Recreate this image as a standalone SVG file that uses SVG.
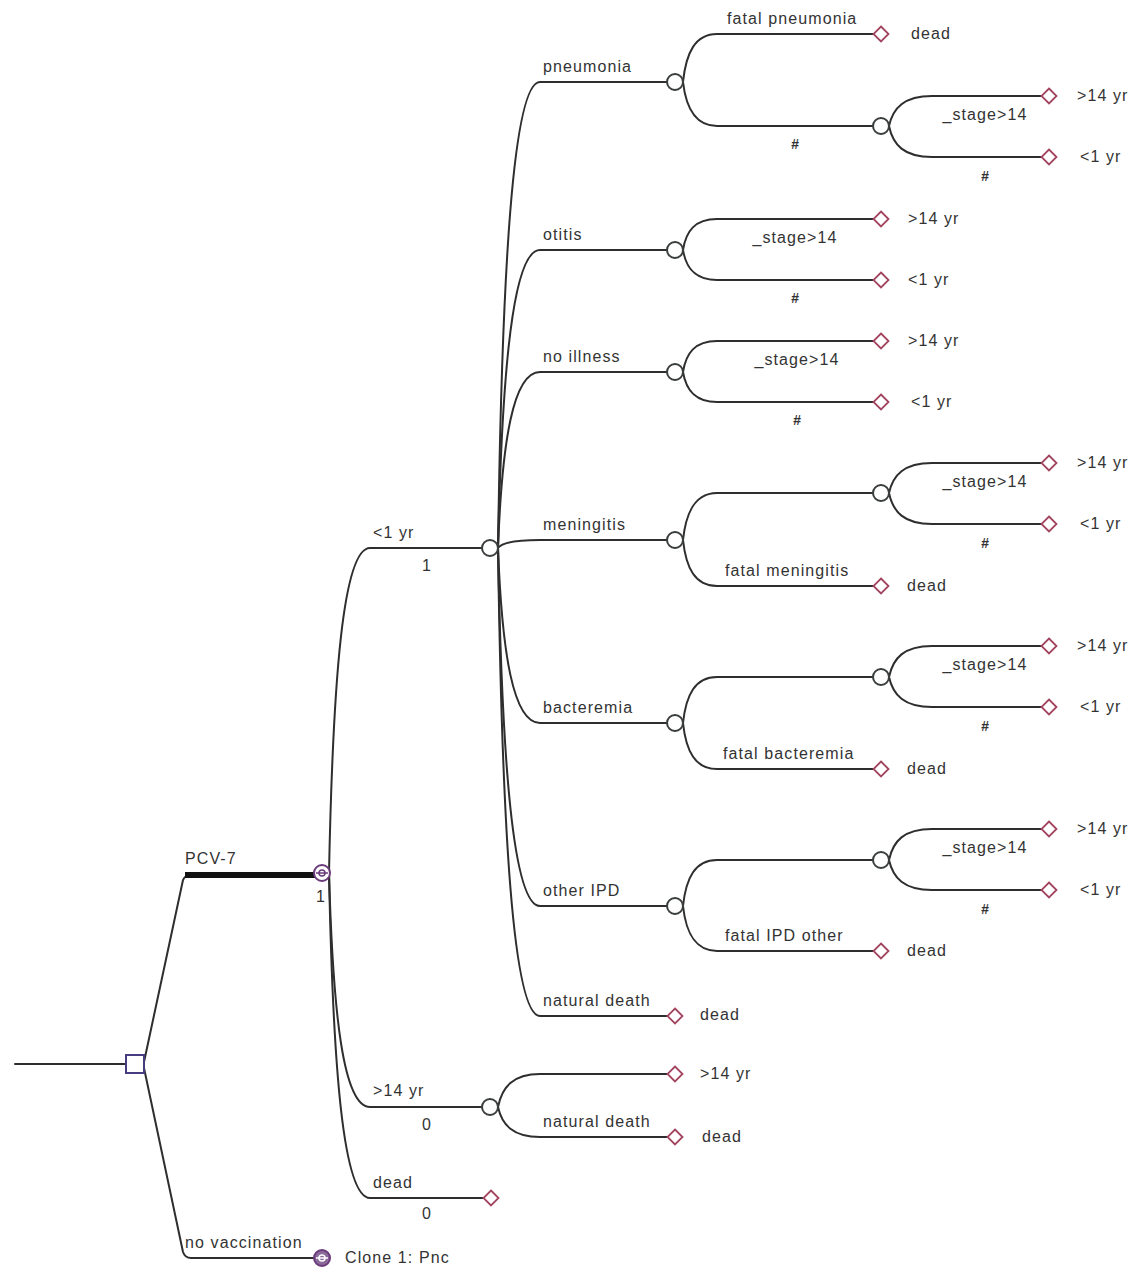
<svg xmlns="http://www.w3.org/2000/svg" width="1137" height="1270" viewBox="0 0 1137 1270">
<style>
.ln{fill:none;stroke:#2e2e2e;stroke-width:2;stroke-linecap:round;stroke-linejoin:round}
.thick{fill:none;stroke:#111;stroke-width:6}
.ch{fill:#fff;stroke:#3b3f3b;stroke-width:2}
.tm{fill:#fff;stroke:#a3445f;stroke-width:1.8}
.dc{fill:#fff;stroke:#463c80;stroke-width:2}
.mk{fill:#fff;stroke:#6b3b7b;stroke-width:2}
.mi{fill:none;stroke:#6b3b7b;stroke-width:1.5}
text{font-family:"Liberation Sans",Arial,sans-serif;font-size:16px;fill:#333;letter-spacing:1.1px}
.c{text-anchor:middle}
.h{font-size:14px;font-weight:bold;font-style:italic;letter-spacing:0}
</style>
<defs>
<polygon id="dia" points="0,-7.5 7.5,0 0,7.5 -7.5,0"/>
</defs>
<g id="connectors">
<path class="ln" d="M15,1064 L126,1064"/>
<path class="ln" d="M144,1062 L183,880 Q185,875 191,875"/>
<path class="thick" d="M185,875 L315,875"/>
<path class="ln" d="M144,1068 L183,1252 Q185,1258 191,1258 L314,1258"/>
<path class="ln" d="M329,873 C333,678 343,548 370,548 L482,548"/>
<path class="ln" d="M329,873 C333,1013 343,1107 370,1107 L482,1107"/>
<path class="ln" d="M329,873 C333,1068 343,1198 370,1198 L484,1198"/>
<path class="ln" d="M498,548 C502,268 513,82 540,82 L667,82"/>
<path class="ln" d="M498,548 C502,369 513,250 540,250 L667,250"/>
<path class="ln" d="M498,548 C502,442 513,372 540,372 L667,372"/>
<path class="ln" d="M498,548 C502,543 513,540 540,540 L667,540"/>
<path class="ln" d="M498,548 C502,653 513,723 540,723 L667,723"/>
<path class="ln" d="M498,548 C502,763 513,906 540,906 L667,906"/>
<path class="ln" d="M498,548 C502,829 513,1016 540,1016 L668,1016"/>
<path class="ln" d="M498,1107 C502,1087 513,1074 540,1074 L668,1074"/>
<path class="ln" d="M498,1107 C502,1125 513,1137 540,1137 L668,1137"/>
<path class="ln" d="M683,82 C686,53 695,34 717,34 L874,34"/>
<path class="ln" d="M683,82 C686,108 695,126 717,126 L873,126"/>
<path class="ln" d="M683,250 C686,231 695,219 717,219 L874,219"/>
<path class="ln" d="M683,250 C686,268 695,280 717,280 L874,280"/>
<path class="ln" d="M683,372 C686,353 695,341 717,341 L874,341"/>
<path class="ln" d="M683,372 C686,390 695,402 717,402 L874,402"/>
<path class="ln" d="M683,540 C686,512 695,493 717,493 L873,493"/>
<path class="ln" d="M683,540 C686,568 695,586 717,586 L874,586"/>
<path class="ln" d="M683,723 C686,695 695,677 717,677 L873,677"/>
<path class="ln" d="M683,723 C686,751 695,769 717,769 L874,769"/>
<path class="ln" d="M683,906 C686,878 695,860 717,860 L873,860"/>
<path class="ln" d="M683,906 C686,933 695,951 717,951 L874,951"/>
<path class="ln" d="M889,126 C893,108 904,96 932,96 L1042,96"/>
<path class="ln" d="M889,126 C893,145 904,157 932,157 L1042,157"/>
<path class="ln" d="M889,493 C893,475 904,463 932,463 L1042,463"/>
<path class="ln" d="M889,493 C893,512 904,524 932,524 L1042,524"/>
<path class="ln" d="M889,677 C893,658 904,646 932,646 L1042,646"/>
<path class="ln" d="M889,677 C893,695 904,707 932,707 L1042,707"/>
<path class="ln" d="M889,860 C893,841 904,829 932,829 L1042,829"/>
<path class="ln" d="M889,860 C893,878 904,890 932,890 L1042,890"/>
</g>
<g id="branch-labels">
<text x="185" y="864">PCV-7</text>
<text x="185" y="1248">no vaccination</text>
<text x="373" y="538">&lt;1 yr</text>
<text class="c" x="427" y="571">1</text>
<text x="373" y="1096">&gt;14 yr</text>
<text class="c" x="427" y="1130">0</text>
<text x="373" y="1188">dead</text>
<text class="c" x="427" y="1219">0</text>
<text x="543" y="72">pneumonia</text>
<text x="543" y="240">otitis</text>
<text x="543" y="362">no illness</text>
<text x="543" y="530">meningitis</text>
<text x="543" y="713">bacteremia</text>
<text x="543" y="896">other IPD</text>
<text x="543" y="1006">natural death</text>
<text x="543" y="1127">natural death</text>
<text x="727" y="24">fatal pneumonia</text>
<text class="c h" x="795" y="149">#</text>
<text class="c" x="795" y="243">_stage&gt;14</text>
<text class="c h" x="795" y="303">#</text>
<text class="c" x="797" y="365">_stage&gt;14</text>
<text class="c h" x="797" y="425">#</text>
<text x="725" y="576">fatal meningitis</text>
<text x="723" y="759">fatal bacteremia</text>
<text x="725" y="941">fatal IPD other</text>
<text class="c" x="985" y="120">_stage&gt;14</text>
<text class="c h" x="985" y="181">#</text>
<text class="c" x="985" y="487">_stage&gt;14</text>
<text class="c h" x="985" y="548">#</text>
<text class="c" x="985" y="670">_stage&gt;14</text>
<text class="c h" x="985" y="731">#</text>
<text class="c" x="985" y="853">_stage&gt;14</text>
<text class="c h" x="985" y="914">#</text>
</g>
<g id="decision"><rect class="dc" x="126" y="1055" width="18" height="18"/></g>
<g id="markov"><circle class="mk" cx="322" cy="873" r="8"/><circle class="mi" cx="322" cy="873" r="3"/><path class="mi" d="M316,873 H328"/><text class="c" x="321" y="902">1</text></g>
<g id="clone"><circle class="mk" cx="322" cy="1258" r="8" style="fill:#8a6a98"/><circle class="mi" cx="322" cy="1258" r="3" style="stroke:#fff"/><path class="mi" d="M316,1258 H328" style="stroke:#fff"/><text x="345" y="1263">Clone 1: Pnc</text></g>
<g id="chance-lt1"><circle class="ch" cx="490" cy="548" r="8"/></g>
<g id="chance-gt14"><circle class="ch" cx="490" cy="1107" r="8"/></g>
<g id="term-dead"><use href="#dia" class="tm" x="491" y="1198"/></g>
<g id="chance-pneumonia"><circle class="ch" cx="675" cy="82" r="8"/></g>
<g id="chance-otitis"><circle class="ch" cx="675" cy="250" r="8"/></g>
<g id="chance-noillness"><circle class="ch" cx="675" cy="372" r="8"/></g>
<g id="chance-meningitis"><circle class="ch" cx="675" cy="540" r="8"/></g>
<g id="chance-bacteremia"><circle class="ch" cx="675" cy="723" r="8"/></g>
<g id="chance-otheripd"><circle class="ch" cx="675" cy="906" r="8"/></g>
<g id="term-natdeath"><use href="#dia" class="tm" x="675" y="1016"/><text x="700" y="1020">dead</text></g>
<g id="term-gt14-a"><use href="#dia" class="tm" x="675" y="1074"/><text x="700" y="1079">&gt;14 yr</text></g>
<g id="term-gt14-dead"><use href="#dia" class="tm" x="675" y="1137"/><text x="702" y="1142">dead</text></g>
<g id="term-pn-dead"><use href="#dia" class="tm" x="881" y="34"/><text x="911" y="39">dead</text></g>
<g id="chance-pn-stage"><circle class="ch" cx="881" cy="126" r="8"/></g>
<g id="term-pn-gt14"><use href="#dia" class="tm" x="1049" y="96"/><text x="1077" y="101">&gt;14 yr</text></g>
<g id="term-pn-lt1"><use href="#dia" class="tm" x="1049" y="157"/><text x="1080" y="162">&lt;1 yr</text></g>
<g id="term-ot-gt14"><use href="#dia" class="tm" x="881" y="219"/><text x="908" y="224">&gt;14 yr</text></g>
<g id="term-ot-lt1"><use href="#dia" class="tm" x="881" y="280"/><text x="908" y="285">&lt;1 yr</text></g>
<g id="term-ni-gt14"><use href="#dia" class="tm" x="881" y="341"/><text x="908" y="346">&gt;14 yr</text></g>
<g id="term-ni-lt1"><use href="#dia" class="tm" x="881" y="402"/><text x="911" y="407">&lt;1 yr</text></g>
<g id="chance-mg-stage"><circle class="ch" cx="881" cy="493" r="8"/></g>
<g id="term-mg-gt14"><use href="#dia" class="tm" x="1049" y="463"/><text x="1077" y="468">&gt;14 yr</text></g>
<g id="term-mg-lt1"><use href="#dia" class="tm" x="1049" y="524"/><text x="1080" y="529">&lt;1 yr</text></g>
<g id="term-mg-dead"><use href="#dia" class="tm" x="881" y="586"/><text x="907" y="591">dead</text></g>
<g id="chance-bc-stage"><circle class="ch" cx="881" cy="677" r="8"/></g>
<g id="term-bc-gt14"><use href="#dia" class="tm" x="1049" y="646"/><text x="1077" y="651">&gt;14 yr</text></g>
<g id="term-bc-lt1"><use href="#dia" class="tm" x="1049" y="707"/><text x="1080" y="712">&lt;1 yr</text></g>
<g id="term-bc-dead"><use href="#dia" class="tm" x="881" y="769"/><text x="907" y="774">dead</text></g>
<g id="chance-ip-stage"><circle class="ch" cx="881" cy="860" r="8"/></g>
<g id="term-ip-gt14"><use href="#dia" class="tm" x="1049" y="829"/><text x="1077" y="834">&gt;14 yr</text></g>
<g id="term-ip-lt1"><use href="#dia" class="tm" x="1049" y="890"/><text x="1080" y="895">&lt;1 yr</text></g>
<g id="term-ip-dead"><use href="#dia" class="tm" x="881" y="951"/><text x="907" y="956">dead</text></g>
</svg>
